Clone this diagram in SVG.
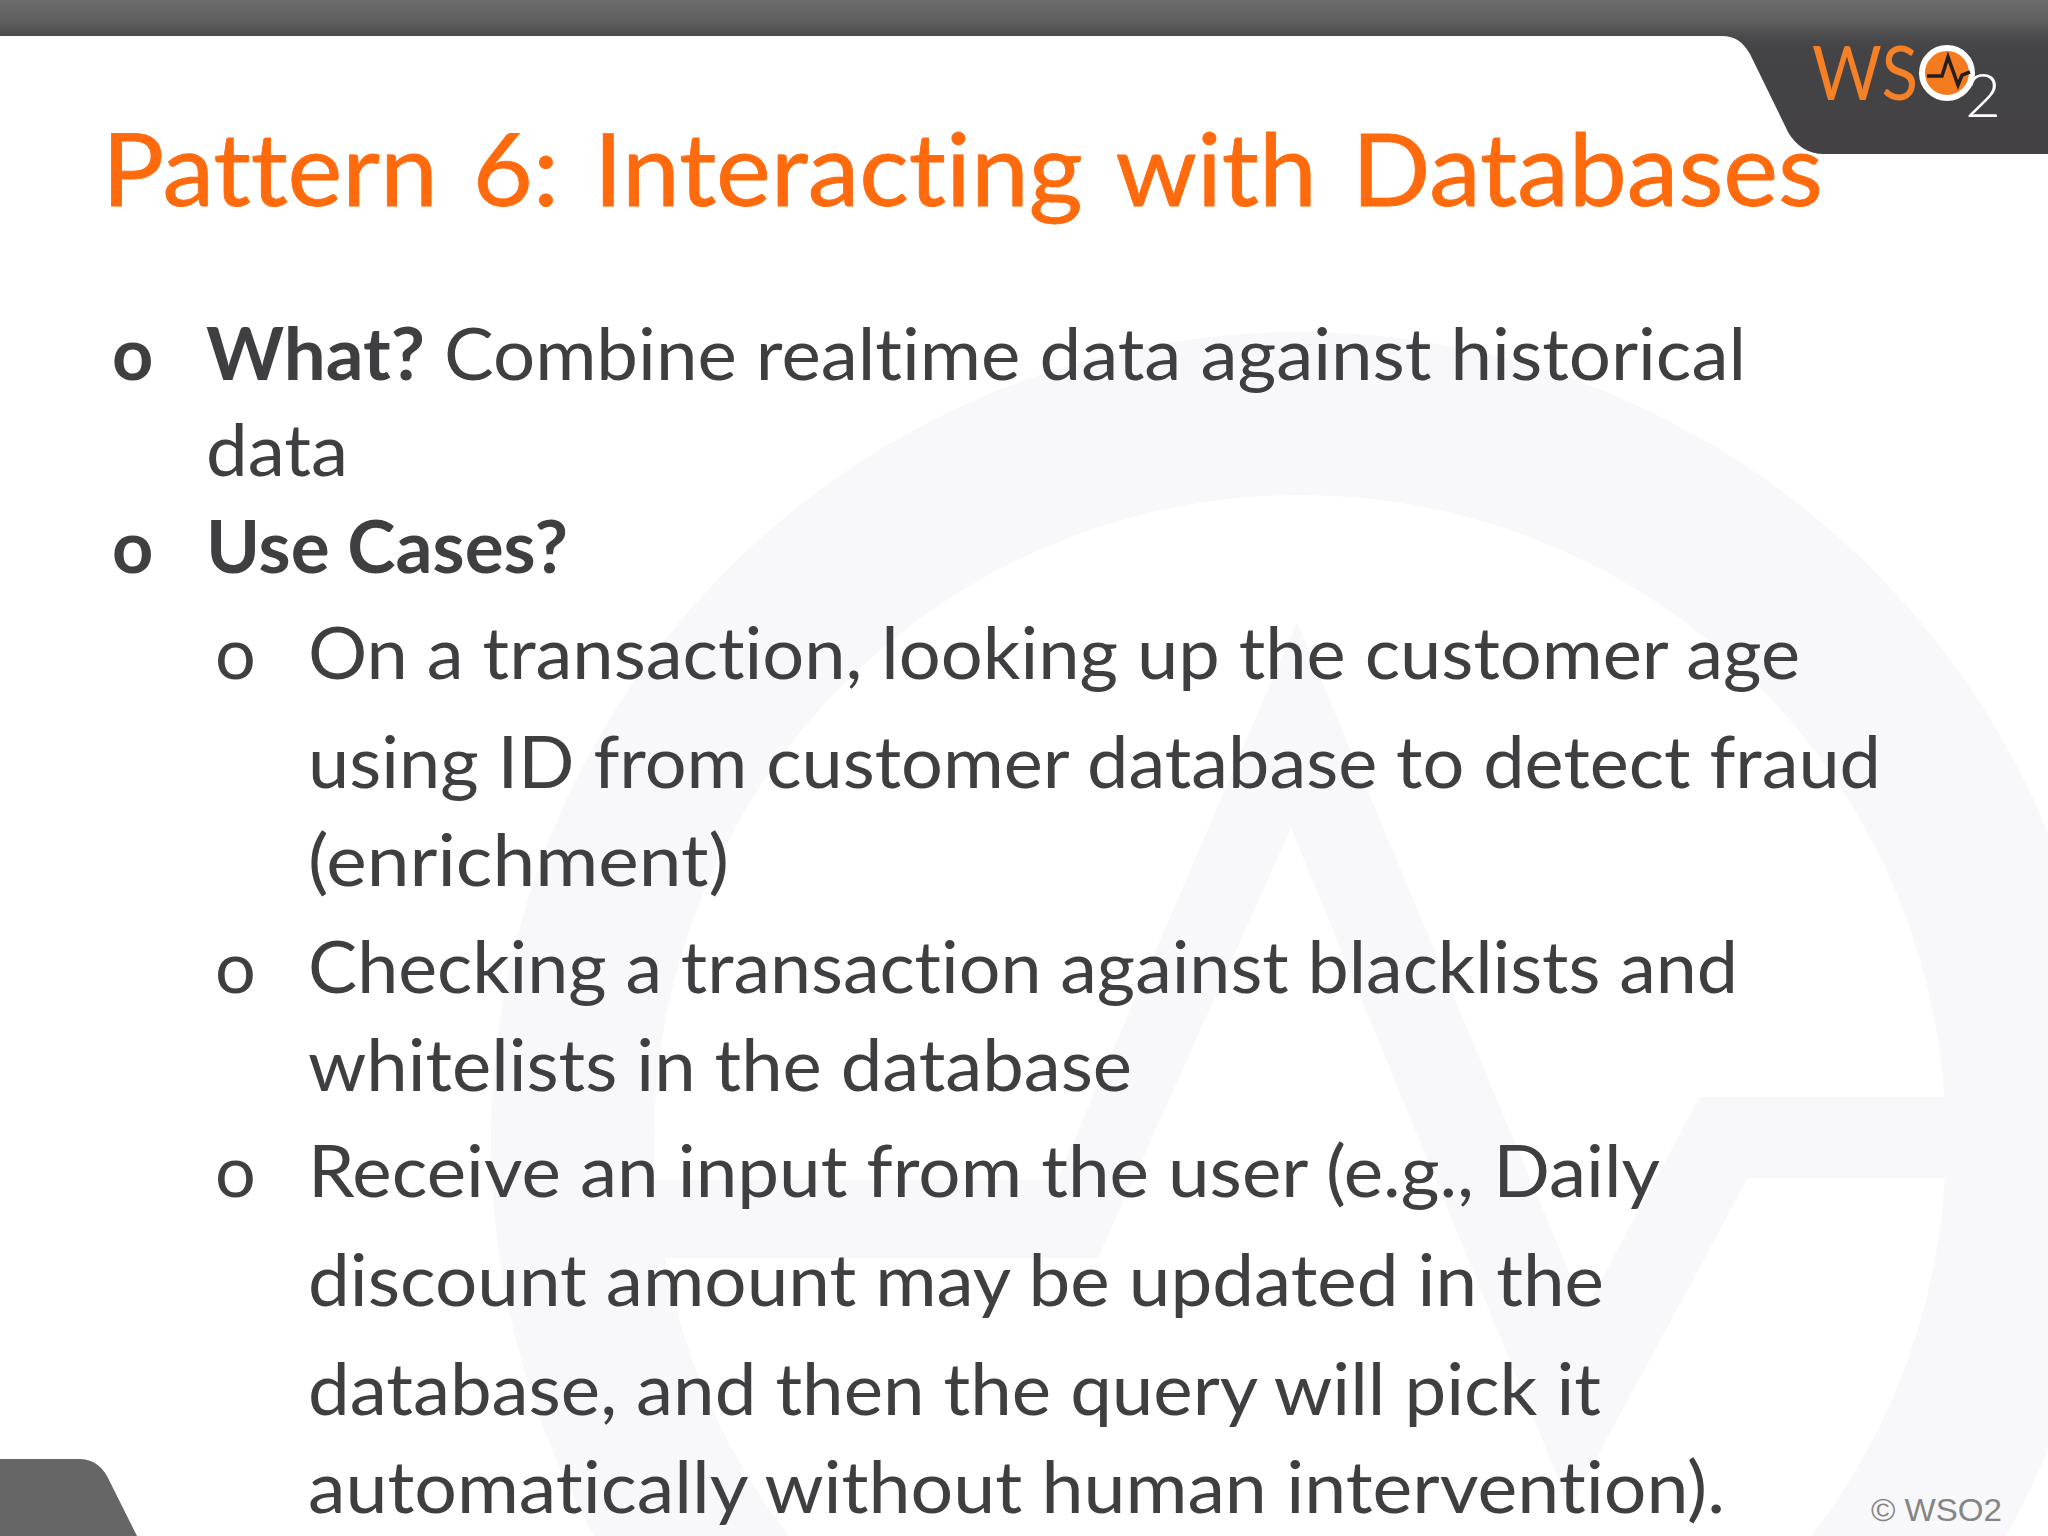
<svg xmlns="http://www.w3.org/2000/svg" width="2048" height="1536" viewBox="0 0 2048 1536">
<defs>
<linearGradient id="hdr" x1="0" y1="0" x2="0" y2="1"><stop offset="0" stop-color="#6c6c6c"/><stop offset="0.13" stop-color="#606060"/><stop offset="0.24" stop-color="#4a4a4c"/><stop offset="0.33" stop-color="#444345"/><stop offset="1" stop-color="#434144"/></linearGradient>
</defs>
<style>
text{font-variant-ligatures:none}
.t{font-family:"Lato","Liberation Sans",sans-serif;font-size:72px;fill:#3f3f42}
.b{font-weight:700}
.wm{fill:#f8f7fa}
</style>
<rect width="2048" height="1536" fill="#ffffff"/>
<g id="watermark">
<circle class="wm" cx="1300" cy="1141" r="809"/>
<circle cx="1300" cy="1141" r="646" fill="#ffffff"/>
<path class="wm" d="M1297 622L1585 1310L1700 1097H1950V1178H1748L1570 1507L1291 828L1098 1258H650V1180H1057Z"/>
</g>
<g id="header">
<path d="M0 0H2048V154H1824C1808 154 1796 146 1788 132L1750 54C1743 42 1735 36 1722 36H0Z" fill="url(#hdr)"/>
</g>
<path id="footer" d="M0 1459H80C94 1459 104 1468 110 1482L137 1536H0Z" fill="#666666"/>
<g id="logo">
<text x="1812" y="100" font-family="Lato,sans-serif" font-size="76" font-weight="400" fill="#f58025" textLength="106" lengthAdjust="spacingAndGlyphs">WS</text>
<circle cx="1947" cy="73" r="25" fill="#f47b20" stroke="#fff" stroke-width="6"/>
<path d="M1927 76H1942L1948 57L1958 85L1962 75L1970 72" fill="none" stroke="#231f20" stroke-width="3.5"/>
<text x="1965" y="117" font-family="Lato,sans-serif" font-size="62" font-weight="300" fill="#fff">2</text>
</g>
<text id="title" x="102" y="206" font-family="Lato,sans-serif" font-size="100" fill="#ff6a0d" stroke="#ff6a0d" stroke-width="0.8" word-spacing="8" textLength="1721" lengthAdjust="spacingAndGlyphs">Pattern 6: Interacting with Databases</text>
<g id="body">
<text class="t b" x="112" y="380">o</text>
<text class="t" x="206" y="380" textLength="1540" lengthAdjust="spacingAndGlyphs"><tspan class="b">What?</tspan> Combine realtime data against historical</text>
<text class="t" x="206" y="476" textLength="142" lengthAdjust="spacingAndGlyphs">data</text>
<text class="t b" x="112" y="573">o</text>
<text class="t b" x="206" y="573" textLength="362" lengthAdjust="spacingAndGlyphs">Use Cases?</text>
<text class="t" x="215" y="679">o</text>
<text class="t" x="308" y="679" textLength="1492" lengthAdjust="spacingAndGlyphs">On a transaction, looking up the customer age</text>
<text class="t" x="308" y="788" textLength="1573" lengthAdjust="spacingAndGlyphs">using ID from customer database to detect fraud</text>
<text class="t" x="308" y="886" textLength="421" lengthAdjust="spacingAndGlyphs">(enrichment)</text>
<text class="t" x="215" y="993">o</text>
<text class="t" x="308" y="993" textLength="1430" lengthAdjust="spacingAndGlyphs">Checking a transaction against blacklists and</text>
<text class="t" x="308" y="1091" textLength="824" lengthAdjust="spacingAndGlyphs">whitelists in the database</text>
<text class="t" x="215" y="1197">o</text>
<text class="t" x="308" y="1197" textLength="1352" lengthAdjust="spacingAndGlyphs">Receive an input from the user (e.g., Daily</text>
<text class="t" x="308" y="1306" textLength="1296" lengthAdjust="spacingAndGlyphs">discount amount may be updated in the</text>
<text class="t" x="308" y="1415" textLength="1293" lengthAdjust="spacingAndGlyphs">database, and then the query will pick it</text>
<text class="t" x="308" y="1513" textLength="1417" lengthAdjust="spacingAndGlyphs">automatically without human intervention).</text>
</g>
<text id="copyright" x="1871" y="1521" font-family="Liberation Sans,sans-serif" font-size="32" fill="#858585" textLength="131" lengthAdjust="spacingAndGlyphs">© WSO2</text>
</svg>
